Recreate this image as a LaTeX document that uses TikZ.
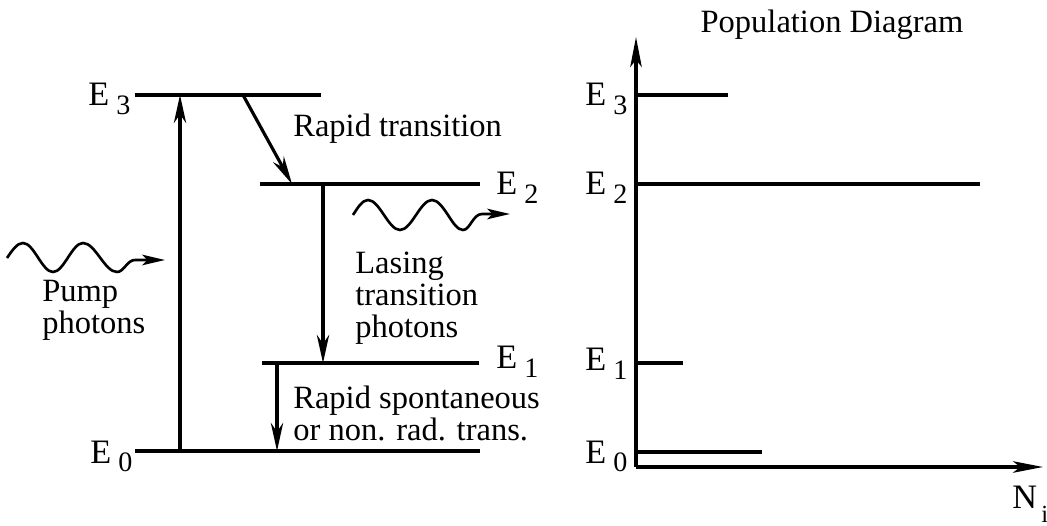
\documentclass[tikz,border=0pt]{standalone}
\usepackage{fontspec}
\setmainfont{Liberation Serif}
\usetikzlibrary{arrows.meta}
\newcommand{\Elab}[1]{E\hspace{4pt}\raisebox{-5pt}{\fontsize{16}{16}\selectfont #1}}
\begin{document}
\begin{tikzpicture}[x=0.02cm,y=-0.02cm,
  lvl/.style={line width=2pt},
  trans/.style={line width=1.8pt,-{Stealth[length=16pt,width=7pt,inset=5pt]}},
  axisline/.style={line width=2pt,-{Stealth[length=17pt,width=6.5pt,inset=4pt]}},
  wave/.style={line width=1.5pt,-{Stealth[length=13pt,width=6pt,inset=3pt]}},
  lbl/.style={font=\fontsize{18.5}{18}\selectfont,inner sep=0pt},
  elbl/.style={font=\fontsize{19.5}{20}\selectfont,inner sep=0pt,anchor=base west}]
\useasboundingbox (0,0) rectangle (1047,526);

% ---------- left: energy levels ----------
\coordinate (L3a) at (135,95);  \coordinate (L3b) at (321,95);
\coordinate (L2a) at (260,184); \coordinate (L2b) at (480,184);
\coordinate (L1a) at (262,363); \coordinate (L1b) at (479,363);
\coordinate (L0a) at (135,451); \coordinate (L0b) at (480,451);
\draw[lvl] (L3a) -- (L3b);
\draw[lvl] (L2a) -- (L2b);
\draw[lvl] (L1a) -- (L1b);
\draw[lvl] (L0a) -- (L0b);

\node[elbl] (e3l) at (88,106) {\Elab{3}};
\node[elbl] (e2l) at (496,195) {\Elab{2}};
\node[elbl] (e1l) at (496,369) {\Elab{1}};
\node[elbl] (e0l) at (90,463) {\Elab{0}};

% transitions
\coordinate (p0) at (180,451); \coordinate (p3) at (180,95);
\draw[trans] (p0) -- (p3);
\coordinate (r3) at (243,95); \coordinate (r2) at (292,184);
\draw[trans] (r3) -- (r2);
\coordinate (s2) at (323,184); \coordinate (s1) at (323,363);
\draw[trans] (s2) -- (s1);
\coordinate (t1) at (277,363); \coordinate (t0) at (277,451);
\draw[trans] (t1) -- (t0);

% photons
\coordinate (w1s) at (7,258); \coordinate (w1e) at (165,260);
\draw[wave] (w1s) sin (23,243) cos (38,257.5) sin (53,272) cos (68,257.5)
  sin (83,243) cos (100,257.5) sin (117,272)
  .. controls (124,272) and (127,260) .. (135,260) -- (w1e);
\coordinate (w2s) at (353,215); \coordinate (w2e) at (510,214);
\draw[wave] (w2s) sin (368,200) cos (384,215) sin (400,230) cos (416,215)
  sin (432,200) cos (448,215) sin (463,230)
  .. controls (470,230) and (473,214) .. (482,214) -- (w2e);

% texts
\node[lbl,anchor=base west] (rt) at (293,137) {Rapid transition};
\node[lbl,anchor=north west,align=left] (las) at (355,252) {Lasing\\transition\\photons};
\node[lbl,anchor=north west,align=left] (pump) at (42,280) {Pump\\photons};
\node[lbl,anchor=north west,align=left,font=\fontsize{18.5}{15}\selectfont] (rs) at (293,386) {Rapid spontaneous\\or non. rad. trans.};

% ---------- right: population diagram ----------
\node[lbl,anchor=base] (title) at (832,33) {Population Diagram};
\coordinate (O) at (636,467);
\coordinate (ytip) at (636,37);
\coordinate (xtip) at (1043,467);
\draw[axisline] (O) -- (ytip);
\draw[axisline] (O) -- (xtip);

\coordinate (R3a) at (636,95);  \coordinate (R3b) at (728,95);
\coordinate (R2a) at (636,184); \coordinate (R2b) at (980,184);
\coordinate (R1a) at (636,363); \coordinate (R1b) at (683,363);
\coordinate (R0a) at (636,452); \coordinate (R0b) at (762,452);
\draw[lvl] (R3a) -- (R3b);
\draw[lvl] (R2a) -- (R2b);
\draw[lvl] (R1a) -- (R1b);
\draw[lvl] (R0a) -- (R0b);

\node[elbl] (e3r) at (585,106) {\Elab{3}};
\node[elbl] (e2r) at (585,195) {\Elab{2}};
\node[elbl] (e1r) at (585,371) {\Elab{1}};
\node[elbl] (e0r) at (585,463) {\Elab{0}};

\node[elbl] (N) at (1012,508) {N};
\node[inner sep=0pt,anchor=base west,font=\fontsize{14}{14}\selectfont] (Ni) at (1041,522) {i};
\end{tikzpicture}
\end{document}
